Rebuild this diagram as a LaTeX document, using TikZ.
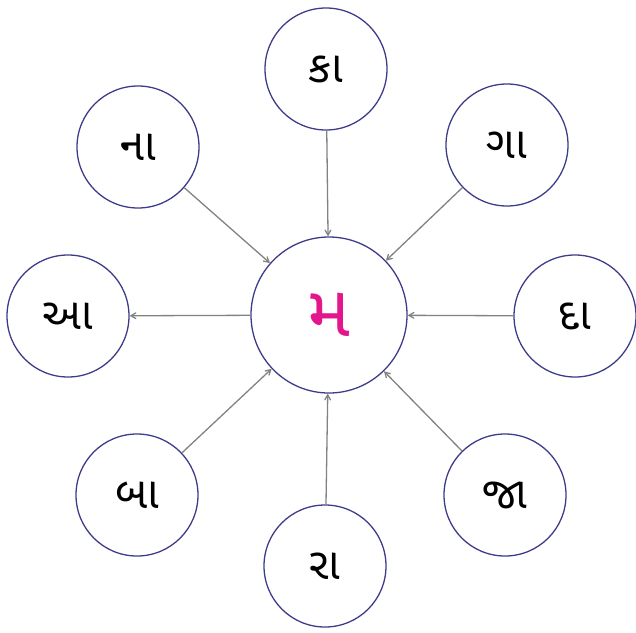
\documentclass[tikz,border=0pt]{standalone}
\usepackage{fontspec}
\newfontfamily\gujfont[Script=Gujarati]{Noto Sans Gujarati UI}
\usepackage{tikz}
\usetikzlibrary{arrows}
\definecolor{rimblue}{RGB}{62,60,138}
\definecolor{mamagenta}{RGB}{228,22,140}
\definecolor{linkgray}{RGB}{130,130,130}

\begin{document}
\begin{tikzpicture}[x=1pt,y=-1pt,
    akshar/.style={circle,draw=rimblue,line width=1.3pt,minimum size=122pt,
      inner sep=0pt,font=\gujfont\fontsize{44}{44}\selectfont},
    kendra/.style={akshar,minimum size=156pt,text=mamagenta,
      font=\gujfont\fontsize{72}{72}\selectfont}]
    \useasboundingbox (0,0) rectangle (636,632);
    \node[kendra] (ma) at (329,315) {મ};
    \node[akshar] (ka) at (326,69)  {કા};
    \node[akshar] (ga) at (507,145) {ગા};
    \node[akshar] (da) at (575,316) {દા};
    \node[akshar] (ja) at (505,495) {જા};
    \node[akshar] (ra) at (325,566) {રા};
    \node[akshar] (ba) at (137,495) {બા};
    \node[akshar] (aa) at (68,316)  {આ};
    \node[akshar] (na) at (138,147) {ના};
    \path[->,draw=linkgray,line width=1.3pt,>=angle 60]
      (ka) edge (ma)
      (ga) edge (ma)
      (da) edge (ma)
      (ja) edge (ma)
      (ra) edge (ma)
      (ba) edge (ma)
      (na) edge (ma)
      (ma) edge (aa);
  \end{tikzpicture}
\end{document}
